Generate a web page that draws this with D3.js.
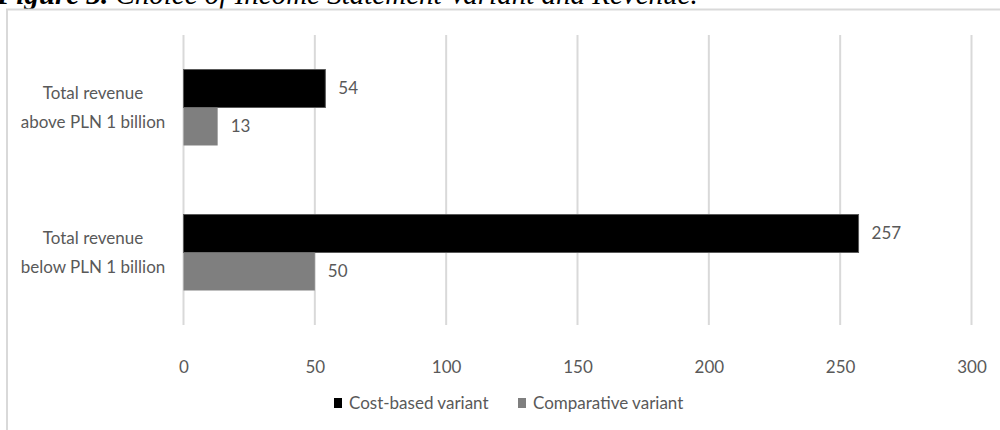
<!DOCTYPE html>
<html>
<head>
<meta charset="utf-8">
<script src="https://cdn.jsdelivr.net/npm/d3@7"></script>
<style>
  body { margin: 0; background: #fff; }
  svg { display: block; }
  text { font-family: Lato, "Open Sans", sans-serif; fill: #595959; }
</style>
</head>
<body>
<div id="chart"></div>
<script>
const categories = ["Total revenue above PLN 1 billion", "Total revenue below PLN 1 billion"];
const categoryLines = [["Total revenue", "above PLN 1 billion"], ["Total revenue", "below PLN 1 billion"]];
const seriesNames = ["Cost-based variant", "Comparative variant"];
const costBased = [54, 257];
const comparative = [13, 50];
const xTicks = [0, 50, 100, 150, 200, 250, 300];
const titleText = "Choice of Income Statement Variant and Revenue.";

const colors = { "Cost-based variant": "#000000", "Comparative variant": "#7f7f7f" };

const dims = { width: 1000, height: 430, left: 183.5, right: 28.5, top: 35, bottom: 105 };

const svg = d3.select("#chart").append("svg")
  .attr("width", dims.width)
  .attr("height", dims.height);

// caption, cut off at the top like in the source page
const title = svg.append("text")
  .attr("x", -3).attr("y", 4)
  .style("font-family", "'Liberation Serif', serif")
  .style("font-size", "29px")
  .style("font-style", "italic")
  .style("fill", "#000");
title.append("tspan").style("font-weight", "bold").text("Figure 3. ");
title.append("tspan").text(titleText);

// chart frame
svg.append("rect")
  .attr("x", 7).attr("y", 9.5)
  .attr("width", 1010).attr("height", 440)
  .attr("fill", "none")
  .attr("stroke", "#d9d9d9")
  .attr("stroke-width", 2);

const xScale = d3.scaleLinear()
  .domain([0, 300])
  .range([dims.left, dims.width - dims.right]);

const yScale = d3.scaleBand()
  .domain(categories)
  .range([dims.top, dims.height - dims.bottom])
  .paddingInner(0.476)
  .paddingOuter(0.238);

const ySub = d3.scaleBand()
  .domain(seriesNames)
  .range([0, yScale.bandwidth()]);

// gridlines
svg.append("g")
  .selectAll("line")
  .data(xTicks)
  .join("line")
    .attr("x1", d => xScale(d)).attr("x2", d => xScale(d))
    .attr("y1", dims.top).attr("y2", dims.height - dims.bottom)
    .attr("stroke", "#d9d9d9")
    .attr("stroke-width", 2);

// x axis labels
const xAxis = svg.append("g")
  .attr("transform", `translate(0,${dims.height - dims.bottom + 36})`)
  .call(d3.axisBottom(xScale).tickValues(xTicks).tickSize(0).tickPadding(0));
xAxis.select(".domain").remove();
xAxis.selectAll("text")
  .style("font-family", "Lato, 'Open Sans', sans-serif")
  .style("font-size", "17px")
  .attr("fill", "#595959");

// category labels
categories.forEach((c, i) => {
  const t = svg.append("text")
    .attr("text-anchor", "middle")
    .style("font-size", "17px")
    .attr("x", 93)
    .attr("y", yScale(c) + yScale.bandwidth() / 2 - 9);
  categoryLines[i].forEach((line, j) => {
    t.append("tspan").attr("x", 93).attr("dy", j === 0 ? 0 : 29).text(line);
  });
});

// bars
const rows = [];
categories.forEach((c, i) => {
  rows.push({ cat: c, series: seriesNames[0], value: costBased[i] });
  rows.push({ cat: c, series: seriesNames[1], value: comparative[i] });
});

svg.append("g")
  .selectAll("rect")
  .data(rows)
  .join("rect")
    .attr("x", xScale(0))
    .attr("y", d => yScale(d.cat) + ySub(d.series))
    .attr("width", d => xScale(d.value) - xScale(0))
    .attr("height", ySub.bandwidth())
    .attr("fill", d => colors[d.series])
    .attr("stroke", d => d.series === seriesNames[0] ? "#595959" : "none")
    .attr("stroke-width", 1);

svg.append("g")
  .selectAll("text")
  .data(rows)
  .join("text")
    .attr("x", d => xScale(d.value) + 13)
    .attr("y", d => yScale(d.cat) + ySub(d.series) + ySub.bandwidth() / 2)
    .attr("dy", "0.35em")
    .style("font-size", "17px")
    .text(d => d.value);

// legend
const legend = svg.append("g").attr("transform", "translate(334,403)");
const legendX = [0, 184];
seriesNames.forEach((s, i) => {
  const g = legend.append("g").attr("transform", `translate(${legendX[i]},0)`);
  g.append("rect")
    .attr("x", 0).attr("y", -5)
    .attr("width", 8).attr("height", 10)
    .attr("fill", colors[s]);
  g.append("text")
    .attr("x", 15).attr("dy", "0.35em")
    .style("font-size", "17px")
    .text(s);
});
</script>
</body>
</html>
